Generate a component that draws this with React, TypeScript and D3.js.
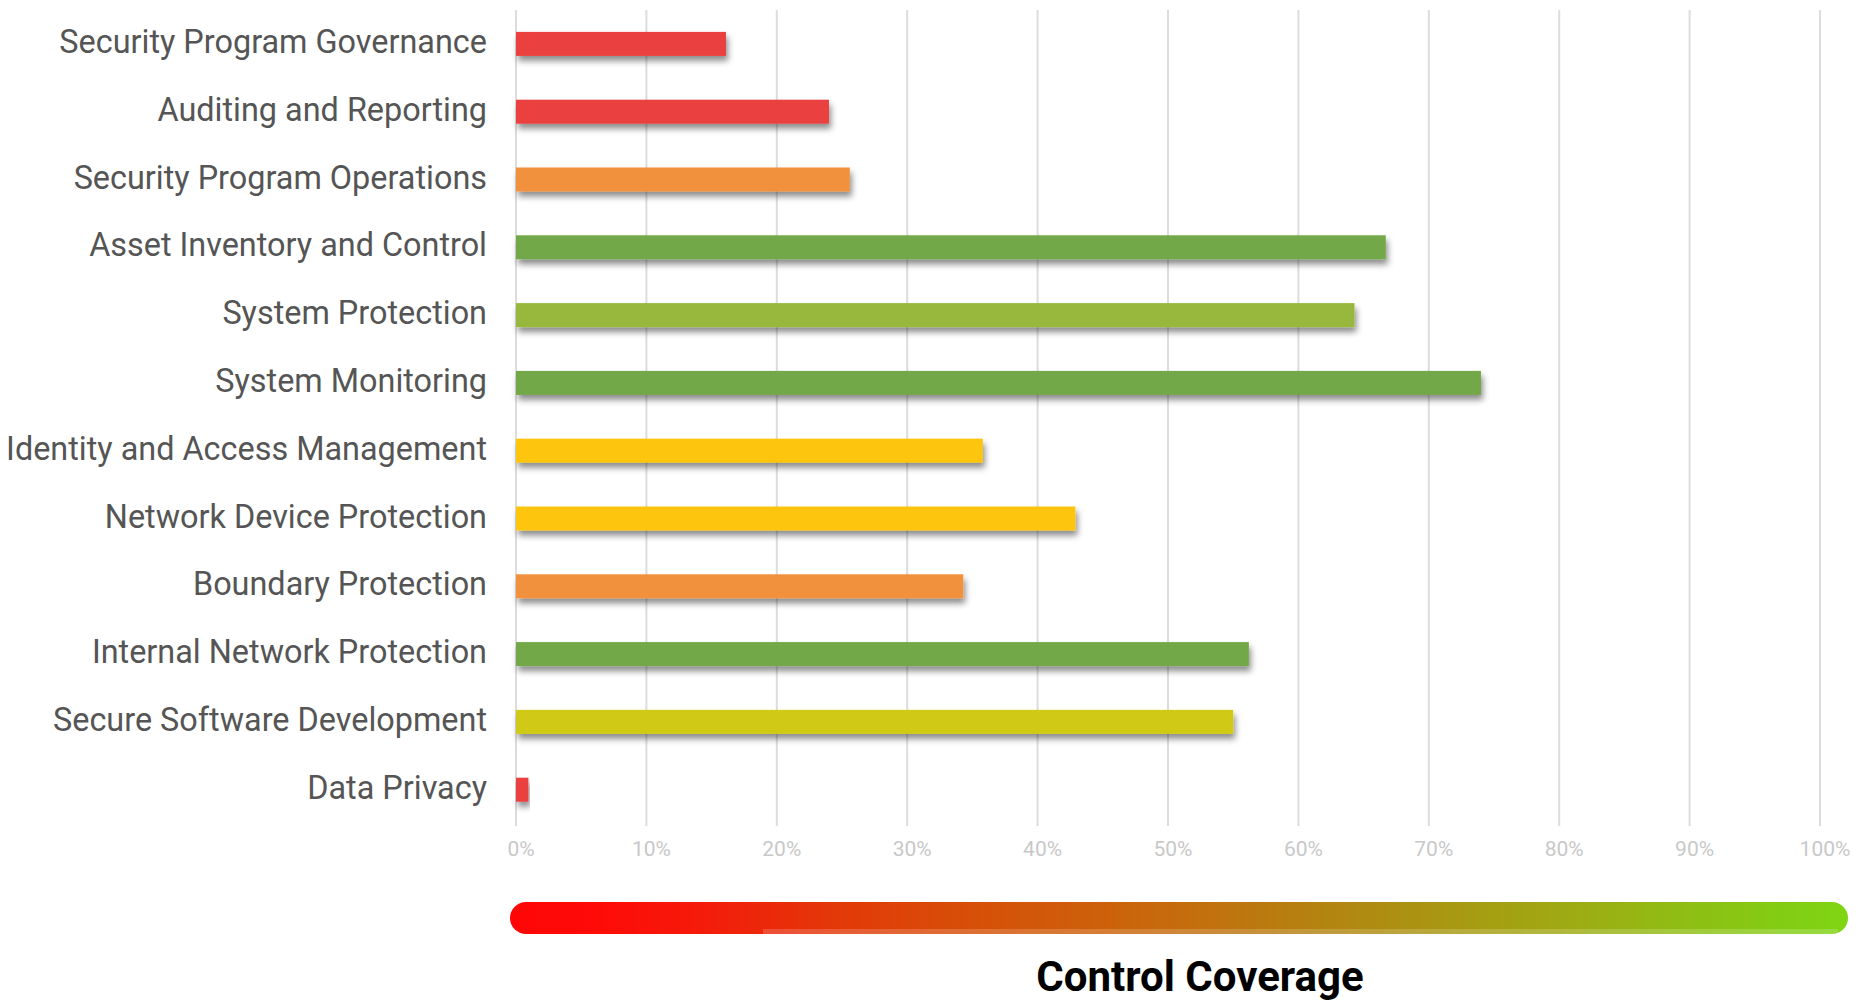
import React from "react";
import * as d3 from "d3";

const categories = [
  "Security Program Governance",
  "Auditing and Reporting",
  "Security Program Operations",
  "Asset Inventory and Control",
  "System Protection",
  "System Monitoring",
  "Identity and Access Management",
  "Network Device Protection",
  "Boundary Protection",
  "Internal Network Protection",
  "Secure Software Development",
  "Data Privacy",
];

const coverage = [16.1, 24.0, 25.6, 66.7, 64.3, 74.0, 35.8, 42.9, 34.3, 56.2, 55.0, 0.95];

const levels = [
  "critical",
  "critical",
  "low",
  "strong",
  "good",
  "strong",
  "fair",
  "fair",
  "low",
  "strong",
  "moderate",
  "critical",
];

const levelNames = ["critical", "low", "fair", "moderate", "good", "strong"];
const levelColors = ["#EA403F", "#F2913E", "#FDC511", "#D0CA12", "#98B83E", "#72A846"];

const ticks = [0, 10, 20, 30, 40, 50, 60, 70, 80, 90, 100];

const gradientStops: [number, string][] = [
  [0, "#FF0606"],
  [0.06, "#FF0A08"],
  [0.14, "#F51A0A"],
  [0.19, "#EC280A"],
  [0.25, "#E23A08"],
  [0.33, "#D84C08"],
  [0.44, "#CD600A"],
  [0.52, "#C2700E"],
  [0.6, "#B48210"],
  [0.7, "#A89812"],
  [0.78, "#A0A812"],
  [0.86, "#92BA14"],
  [0.96, "#82CE14"],
  [1, "#7ED612"],
];

const W = 1866;
const H = 1004;

export default function App() {
  const x = d3.scaleLinear().domain([0, 100]).range([516, 1820]);
  const y = d3
    .scaleBand<string>()
    .domain(categories)
    .range([10, 823.6])
    .paddingInner(0.646)
    .paddingOuter(0.323);
  const color = d3.scaleOrdinal<string, string>().domain(levelNames).range(levelColors);

  const gridTop = 10;
  const gridBottom = 826;
  const gradX0 = 510;
  const gradX1 = 1848;
  const gradY = 902;
  const gradH = 32;

  return (
    <svg
      width={W}
      height={H}
      style={{ position: "absolute", left: 0, top: 0, background: "#fff" }}
    >
      <defs>
        <filter id="shadow" x="-5%" y="-50%" width="115%" height="250%">
          <feDropShadow dx="2" dy="5" stdDeviation="3" floodColor="#000" floodOpacity="0.45" />
        </filter>
        <linearGradient id="grad" x1="0" x2="1" y1="0" y2="0">
          {gradientStops.map(([o, c], i) => (
            <stop key={i} offset={o} stopColor={c} />
          ))}
        </linearGradient>
      </defs>

      {ticks.map((t) => (
        <line
          key={"g" + t}
          x1={x(t)}
          x2={x(t)}
          y1={gridTop}
          y2={gridBottom}
          stroke="#dcdcdc"
          strokeWidth={2}
        />
      ))}

      {categories.map((c, i) => (
        <rect
          key={"b" + c}
          x={x(0)}
          y={y(c)}
          width={x(coverage[i]) - x(0)}
          height={y.bandwidth()}
          fill={color(levels[i])}
          filter="url(#shadow)"
        />
      ))}

      {categories.map((c) => (
        <text
          key={"l" + c}
          x={487}
          y={(y(c) as number) + y.bandwidth() / 2 + 9}
          textAnchor="end"
          fontFamily="Roboto, 'Noto Sans', sans-serif"
          fontSize={32.4}
          fill="#555555"
        >
          {c}
        </text>
      ))}

      {ticks.map((t) => (
        <text
          key={"t" + t}
          x={x(t) + 5}
          y={856}
          textAnchor="middle"
          fontFamily="Roboto, 'Noto Sans', sans-serif"
          fontSize={21}
          fill="#c8c8c8"
        >
          {t + "%"}
        </text>
      ))}

      <rect
        x={gradX0}
        y={gradY}
        width={gradX1 - gradX0}
        height={gradH}
        rx={gradH / 2}
        ry={gradH / 2}
        fill="url(#grad)"
      />
      <rect
        x={763}
        y={gradY + gradH - 5}
        width={gradX1 - 763 - 10}
        height={5}
        fill="#ffffff"
        opacity={0.18}
      />

      <text
        x={1200}
        y={991}
        textAnchor="middle"
        fontFamily="Roboto, 'Noto Sans', sans-serif"
        fontWeight={700}
        fontSize={42}
        fill="#000"
      >
        Control Coverage
      </text>
    </svg>
  );
}
